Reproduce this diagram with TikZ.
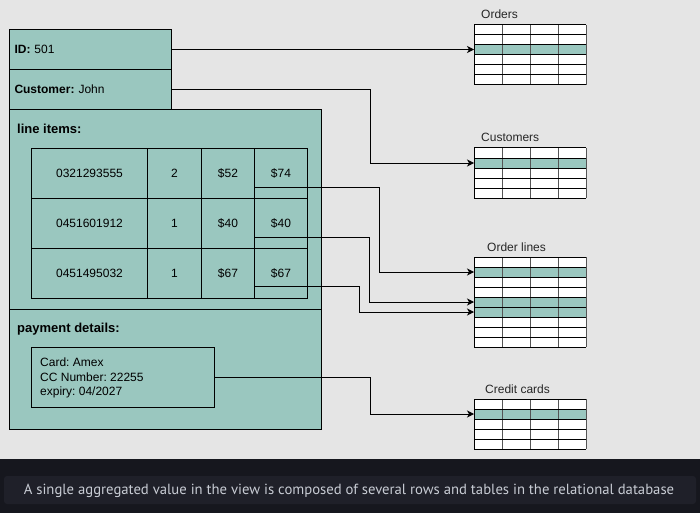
\documentclass[tikz,border=0pt]{standalone}
\usepackage{fontspec}
\setmainfont{Liberation Sans}
\newfontfamily\capfont{PT Sans}
\usetikzlibrary{arrows.meta}
\frenchspacing
\definecolor{bg}{HTML}{E5E5E5}
\definecolor{teal}{HTML}{9AC7BF}
\definecolor{band}{HTML}{16171E}
\definecolor{capbox}{HTML}{1F2029}
\definecolor{captext}{HTML}{C8CCD4}
\definecolor{gridgray}{HTML}{555555}
\tikzset{
  box/.style={draw=black, fill=teal, line width=1pt, anchor=north west, inner sep=0pt},
  fieldbox/.style={box, minimum width=162pt, minimum height=40pt, text width=152pt, inner xsep=5pt, align=left, font=\fontsize{12}{14}\selectfont},
  cell/.style={draw=black, fill=teal, line width=1pt, anchor=north west, inner sep=0pt, minimum height=50pt, font=\fontsize{12}{14}\selectfont},
  lbl/.style={anchor=base west, inner sep=0pt, font=\fontsize{13}{15}\selectfont\bfseries},
  ttl/.style={anchor=base west, inner sep=0pt, text=black!85, font=\fontsize{12}{14}\selectfont},
  conn/.style={draw=black, line width=1pt, -{Stealth[length=7pt,width=7pt,inset=2pt]}},
}
\newcommand{\dbtable}[5]{% name, x, y top, rows, list of highlighted rows
  \foreach \r in {1,...,#4}{
    \fill[white] (#2,{#3+(\r-1)*10}) rectangle ++(112,10);
  }
  \foreach \h in {#5}{
    \fill[teal] (#2,{#3+(\h-1)*10}) rectangle ++(112,10);
    \coordinate (#1\h) at (#2,{#3+(\h-0.5)*10});
  }
  \foreach \c in {1,2,3}{
    \draw[gridgray, line width=1pt] ({#2+\c*28},#3) -- ++(0,{#4*10});
  }
  \foreach \r in {0,...,#4}{
    \draw[black, line width=1pt] (#2,{#3+\r*10}) -- ++(112,0);
  }
  \draw[black, line width=1pt] (#2,#3) -- ++(0,{#4*10});
  \draw[gridgray, line width=1pt] ({#2+112},#3) -- ++(0,{#4*10});
}
\begin{document}
\begin{tikzpicture}[x=1pt,y=-1pt]
\useasboundingbox (0,0) rectangle (700,513);
\fill[bg] (0,0) rectangle (700,459);
\fill[band] (0,459) rectangle (700,513);
\fill[capbox, rounded corners=3pt] (4,476) rectangle (696,504);
\node[anchor=center, inner sep=0pt, text=captext, font=\capfont\fontsize{14.7}{16}\selectfont] (caption) at (349,490.5) {A single aggregated value in the view is composed of several rows and tables in the relational database};

% left view
\node[fieldbox] (id) at (9,29) {\textbf{ID:} 501};
\node[fieldbox] (cust) at (9,69) {\textbf{Customer:} John};
\node[box, minimum width=312pt, minimum height=200pt] (li) at (9,109) {};
\node[box, minimum width=312pt, minimum height=120pt] (pay) at (9,309) {};
\node[lbl] (lilbl) at (17,134) {line items:};
\node[lbl] (paylbl) at (17,332) {payment details:};

% line items table
\foreach \row/\isbn/\qty/\pr/\tot [count=\i] in {0/0321293555/2/\$52/\$74, 50/0451601912/1/\$40/\$40, 100/0451495032/1/\$67/\$67}{
  \node[cell, minimum width=116pt] (r\i c1) at (31,148+\row) {\isbn};
  \node[cell, minimum width=54pt] (r\i c2) at (147,148+\row) {\qty};
  \node[cell, minimum width=53pt] (r\i c3) at (201,148+\row) {\pr};
  \node[cell, minimum width=53pt] (r\i c4) at (254,148+\row) {\tot};
}

% payment box
\node[box, minimum width=183pt, minimum height=60pt] (card) at (31,347) {};
\node[anchor=north west, inner sep=0pt, align=left, font=\fontsize{12}{14.5}\selectfont] (cardtxt) at (40,357.6) {Card: Amex\\CC Number: 22255\\expiry: 04/2027};

% right tables
\node[ttl] (tord) at (481,19) {Orders};
\dbtable{ord}{474}{25}{6}{3}
\node[ttl] (tcus) at (481,142) {Customers};
\dbtable{cus}{474}{148}{5}{2}
\node[ttl] (tol) at (487,251) {Order lines};
\dbtable{ol}{474}{257}{9}{2,5,6}
\node[ttl] (tcc) at (485,393) {Credit cards};
\dbtable{cc}{474}{399}{5}{2}

% connectors
\draw[conn] (id.east) -- (id.east -| ord3);
\draw[conn] (cust.east) -- ++(198,0) |- (cus2);
\draw[conn] ([yshift=12pt]r1c4.south west) -- ++(125,0) |- (ol2);
\draw[conn] ([yshift=12pt]r2c4.south west) -- ++(115,0) |- (ol5);
\draw[conn] ([yshift=13pt]r3c4.south west) -- ++(105,0) |- (ol6);
\draw[conn] ([yshift=-30pt]card.north east) -- ++(155,0) |- (cc2);
\end{tikzpicture}
\end{document}
